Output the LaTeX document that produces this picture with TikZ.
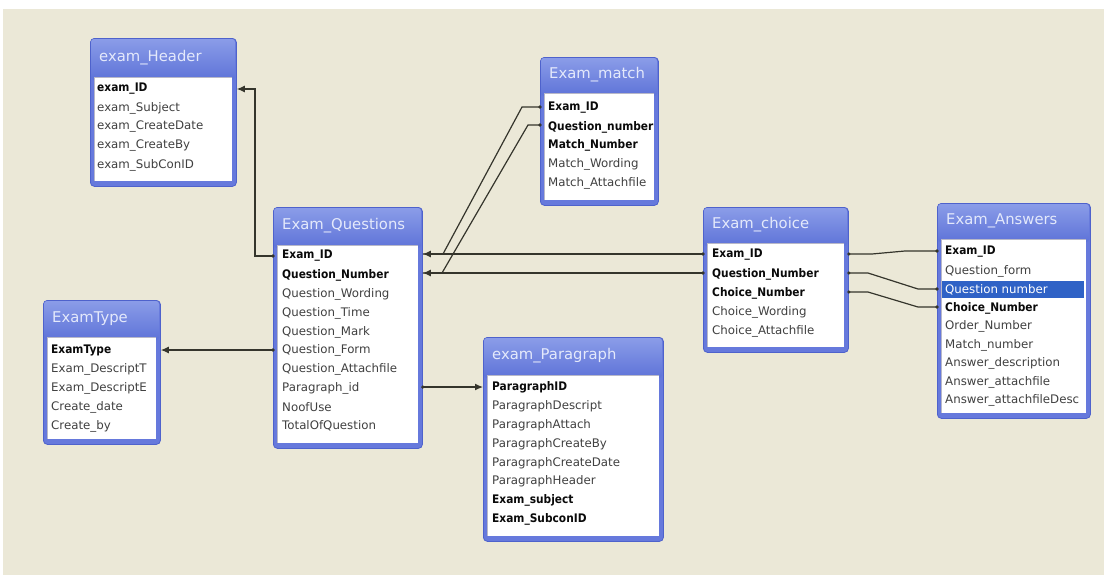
\documentclass[tikz,border=0pt]{standalone}
\usepackage{fontspec}
\setmainfont{DejaVu Sans}
\newfontfamily\rowfont{DejaVu Sans}
\newfontfamily\rowbold[FakeStretch=0.9]{DejaVu Sans Bold}
\usetikzlibrary{arrows.meta,calc}
\definecolor{bg}{HTML}{EBE8D7}
\definecolor{framec}{HTML}{6679DC}
\definecolor{framedk}{HTML}{4E62CC}
\definecolor{ttop}{HTML}{8A9CE8}
\definecolor{tbot}{HTML}{5E73D8}
\definecolor{ttextc}{HTML}{E4E9FB}
\definecolor{rowc}{HTML}{404040}
\definecolor{keyc}{HTML}{0A0A0A}
\definecolor{linec}{HTML}{35352C}
\definecolor{hl}{HTML}{2F62C6}
\definecolor{innerc}{HTML}{B8B8C8}
\tikzset{
  frame/.style={fill=framec, draw=framedk, line width=0.8pt, rounded corners=4pt, inner sep=0pt},
  ttext/.style={inner sep=0pt, anchor=west, text=ttextc, font=\rowfont\fontsize{14.8}{15}\selectfont},
  rown/.style={inner sep=0pt, anchor=west, text=rowc, font=\rowfont\fontsize{11.8}{12}\selectfont},
  rowk/.style={inner sep=0pt, anchor=west, text=keyc, font=\rowbold\fontsize{11.8}{12}\selectfont},
  rowh/.style={inner sep=0pt, anchor=west, text=white, font=\rowfont\fontsize{11.8}{12}\selectfont},
  conn/.style={draw=linec, line width=1.2pt},
  arr/.style={-{Latex[length=8pt,width=7pt]}},
  dot/.style={fill=linec}
}
% #1 name, #2 left, #3 top, #4 right, #5 body top, #6 bottom, #7 title
\newcommand\tbl[7]{%
  \node[frame, anchor=north west, minimum width={#4-#2}, minimum height={#6-#3}] (#1) at (#2,#3) {};
  \shade[top color=ttop, bottom color=tbot, rounded corners=3pt] (#2+1,#3+1) rectangle (#4-1,#5+3);
  \fill[white] (#2+4,#5) rectangle (#4-4,#6-5);
  \draw[innerc, line width=0.8pt] (#2+4.5,#6-5) -- (#2+4.5,#5+0.5) -- (#4-4,#5+0.5);
  \node[ttext] (#1-title) at (#2+9,{(#3+#5)/2}) {#7};
}
\newcommand\rk[4]{\node[rowk] (#1) at (#2,#3) {#4};}
\newcommand\rn[4]{\node[rown] (#1) at (#2,#3) {#4};}
\begin{document}
\begin{tikzpicture}[x=1pt,y=-1pt]
\useasboundingbox[fill=white] (0,0) rectangle (1104,574);
\fill[bg] (3,9) rectangle (1105,575);

% exam_Header
\tbl{hdr}{90}{38}{236}{77}{186}{exam\_Header}
\rk{hdr1}{97}{89}{exam\_ID}
\rn{hdr2}{97}{108}{exam\_Subject}
\rn{hdr3}{97}{127}{exam\_CreateDate}
\rn{hdr4}{97}{146}{exam\_CreateBy}
\rn{hdr5}{97}{165}{exam\_SubConID}

% Exam_match
\tbl{mat}{540}{57}{658}{93}{205}{Exam\_match}
\rk{mat1}{548}{108}{Exam\_ID}
\rk{mat2}{548}{127}{Question\_number}
\rk{mat3}{548}{145}{Match\_Number}
\rn{mat4}{548}{164}{Match\_Wording}
\rn{mat5}{548}{183}{Match\_Attachfile}

% Exam_Questions
\tbl{que}{273}{207}{422}{245}{448}{Exam\_Questions}
\rk{que1}{282}{256}{Exam\_ID}
\rk{que2}{282}{275}{Question\_Number}
\rn{que3}{282}{294}{Question\_Wording}
\rn{que4}{282}{313}{Question\_Time}
\rn{que5}{282}{332}{Question\_Mark}
\rn{que6}{282}{350}{Question\_Form}
\rn{que7}{282}{369}{Question\_Attachfile}
\rn{que8}{282}{388}{Paragraph\_id}
\rn{que9}{282}{407}{NoofUse}
\rn{que10}{282}{426}{TotalOfQuestion}

% ExamType
\tbl{typ}{43}{300}{160}{337}{444}{ExamType}
\rk{typ1}{51}{350}{ExamType}
\rn{typ2}{51}{369}{Exam\_DescriptT}
\rn{typ3}{51}{388}{Exam\_DescriptE}
\rn{typ4}{51}{407}{Create\_date}
\rn{typ5}{51}{426}{Create\_by}

% exam_Paragraph
\tbl{par}{483}{337}{663}{375}{541}{exam\_Paragraph}
\rk{par1}{492}{387}{ParagraphID}
\rn{par2}{492}{406}{ParagraphDescript}
\rn{par3}{492}{425}{ParagraphAttach}
\rn{par4}{492}{444}{ParagraphCreateBy}
\rn{par5}{492}{463}{ParagraphCreateDate}
\rn{par6}{492}{481}{ParagraphHeader}
\rk{par7}{492}{500}{Exam\_subject}
\rk{par8}{492}{519}{Exam\_SubconID}

% Exam_choice
\tbl{cho}{703}{207}{848}{243}{352}{Exam\_choice}
\rk{cho1}{712}{255}{Exam\_ID}
\rk{cho2}{712}{274}{Question\_Number}
\rk{cho3}{712}{293}{Choice\_Number}
\rn{cho4}{712}{312}{Choice\_Wording}
\rn{cho5}{712}{331}{Choice\_Attachfile}

% Exam_Answers
\tbl{ans}{937}{203}{1090}{239}{418}{Exam\_Answers}
\fill[hl] (942,281) rectangle (1084,298);
\rk{ans1}{945}{252}{Exam\_ID}
\rn{ans2}{945}{271}{Question\_form}
\node[rowh] (ans3) at (945,289.5) {Question number};
\rk{ans4}{945}{308}{Choice\_Number}
\rn{ans5}{945}{326}{Order\_Number}
\rn{ans6}{945}{345}{Match\_number}
\rn{ans7}{945}{363}{Answer\_description}
\rn{ans8}{945}{382}{Answer\_attachfile}
\rn{ans9}{945}{400}{Answer\_attachfileDesc}

% bend points
\coordinate (j1) at (255,0);
\coordinate (m1a) at (522,107);
\coordinate (m1b) at (443,254);
\coordinate (m2a) at (528,125);
\coordinate (m2b) at (442,273);
\coordinate (a1a) at (872,254);
\coordinate (a1b) at (905,251);
\coordinate (a2a) at (868,273);
\coordinate (a2b) at (918,289);
\coordinate (a3a) at (868,292);
\coordinate (a3b) at (918,307);

% connectors
\draw[conn,arr] (que.west |- que1) -- (j1 |- que1) -- (j1 |- hdr1) -- (hdr.east |- hdr1);
\fill[dot] (que.west |- que1) circle (1.8);
\draw[conn,arr] (que.west |- typ1) -- (typ.east |- typ1);
\fill[dot] (que.west |- typ1) circle (1.8);
\draw[conn,arr] (que.east |- par1) -- (par.west |- par1);
\fill[dot] (que.east |- par1) circle (1.8);

\draw[conn] (mat.west |- m1a) -- (m1a) -- (m1b) -- (que.east |- m1b);
\draw[conn] (mat.west |- m2a) -- (m2a) -- (m2b) -- (que.east |- m2b);
\fill[dot] (mat.west |- m1a) circle (1.8);
\fill[dot] (mat.west |- m2a) circle (1.8);

\draw[conn,arr] (cho.west |- m1b) -- (que.east |- m1b);
\draw[conn,arr] (cho.west |- m2b) -- (que.east |- m2b);
\fill[dot] (cho.west |- m1b) circle (1.8);
\fill[dot] (cho.west |- m2b) circle (1.8);

\draw[conn] (cho.east |- a1a) -- (a1a) -- (a1b) -- (ans.west |- a1b);
\draw[conn] (cho.east |- a2a) -- (a2a) -- (a2b) -- (ans.west |- a2b);
\draw[conn] (cho.east |- a3a) -- (a3a) -- (a3b) -- (ans.west |- a3b);
\foreach \c in {a1a,a2a,a3a} \fill[dot] (cho.east |- \c) circle (1.8);
\foreach \c in {a1b,a2b,a3b} \fill[dot] (ans.west |- \c) circle (1.8);
\end{tikzpicture}
\end{document}
